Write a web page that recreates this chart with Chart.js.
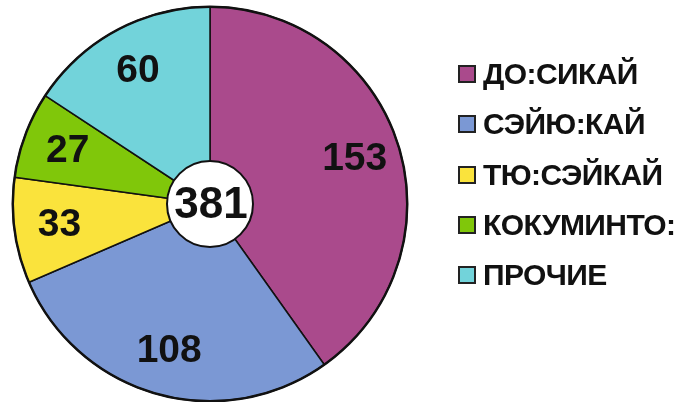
<!DOCTYPE html>
<html>
<head>
<meta charset="utf-8">
<script src="https://cdn.jsdelivr.net/npm/chart.js@4/dist/chart.umd.min.js"></script>
<style>
  html, body { margin: 0; padding: 0; background: #fff; }
  #wrap { position: relative; width: 685px; height: 402px; overflow: hidden; }
  #legend { position: absolute; left: 458px; top: 49px; margin: 0; padding: 0; list-style: none;
    font-family: "Liberation Sans", Arial, sans-serif; font-weight: bold; font-size: 30px;
    letter-spacing: -0.6px; color: #111; }
  #legend li { display: flex; align-items: center; height: 50.3px; line-height: 50px; white-space: nowrap; }
  #legend .box { width: 18px; height: 18px; box-sizing: border-box; border: 2px solid #222; margin-right: 7px; }
</style>
</head>
<body>
<div id="wrap">
  <canvas id="pie" width="685" height="402"></canvas>
  <ul id="legend"></ul>
</div>
<script>
const categories = ['ДО:СИКАЙ', 'СЭЙЮ:КАЙ', 'ТЮ:СЭЙКАЙ', 'КОКУМИНТО:', 'ПРОЧИЕ'];
const seats = [153, 108, 33, 27, 60];
const colors = ['#AA4A8C', '#7B98D4', '#FAE33C', '#80C70A', '#72D3DA'];

(function () {
  // numbers inside the slices, white disc with the total in the middle
  const sliceLabels = {
    id: 'sliceLabels',
    afterDatasetsDraw(chart) {
      const ctx = chart.ctx;
      const arcs = chart.getDatasetMeta(0).data;
      const data = chart.data.datasets[0].data;
      if (!arcs.length) return;
      const cx = arcs[0].x, cy = arcs[0].y, r = arcs[0].outerRadius;

      ctx.save();
      ctx.beginPath();
      ctx.arc(cx, cy, r, 0, Math.PI * 2);
      ctx.lineWidth = 2.5;
      ctx.strokeStyle = '#111';
      ctx.stroke();

      ctx.fillStyle = '#111';
      ctx.textAlign = 'center';
      ctx.textBaseline = 'middle';
      ctx.font = 'bold 39px "Liberation Sans", Arial, sans-serif';
      arcs.forEach(function (arc, i) {
        const mid = (arc.startAngle + arc.endAngle) / 2;
        const d = r * 0.77;
        ctx.fillText(String(data[i]), cx + Math.cos(mid) * d, cy + Math.sin(mid) * d + 1);
      });

      const total = data.reduce(function (a, b) { return a + b; }, 0);
      ctx.beginPath();
      ctx.arc(cx, cy, 43, 0, Math.PI * 2);
      ctx.fillStyle = '#fff';
      ctx.fill();
      ctx.lineWidth = 2;
      ctx.strokeStyle = '#111';
      ctx.stroke();
      ctx.fillStyle = '#111';
      ctx.font = 'bold 44px "Liberation Sans", Arial, sans-serif';
      ctx.fillText(String(total), cx + 1, cy + 2);
      ctx.restore();
    }
  };

  // legend as html list, built from the chart's own legend items
  const htmlLegend = {
    id: 'htmlLegend',
    afterUpdate(chart) {
      const ul = document.getElementById('legend');
      ul.innerHTML = '';
      const items = chart.options.plugins.legend.labels.generateLabels(chart);
      items.forEach(function (item) {
        const li = document.createElement('li');
        const box = document.createElement('span');
        box.className = 'box';
        box.style.background = item.fillStyle;
        const txt = document.createElement('span');
        txt.textContent = item.text;
        li.appendChild(box);
        li.appendChild(txt);
        ul.appendChild(li);
      });
    }
  };

  new Chart(document.getElementById('pie'), {
    type: 'pie',
    data: {
      labels: categories,
      datasets: [{
        data: seats,
        backgroundColor: colors,
        borderColor: '#111',
        borderWidth: 1.5
      }]
    },
    options: {
      responsive: false,
      devicePixelRatio: 1,
      animation: false,
      layout: { padding: { left: 11, right: 276, top: 6, bottom: 0 } },
      plugins: {
        legend: { display: false },
        tooltip: { enabled: false }
      }
    },
    plugins: [sliceLabels, htmlLegend]
  });
})();
</script>
</body>
</html>
